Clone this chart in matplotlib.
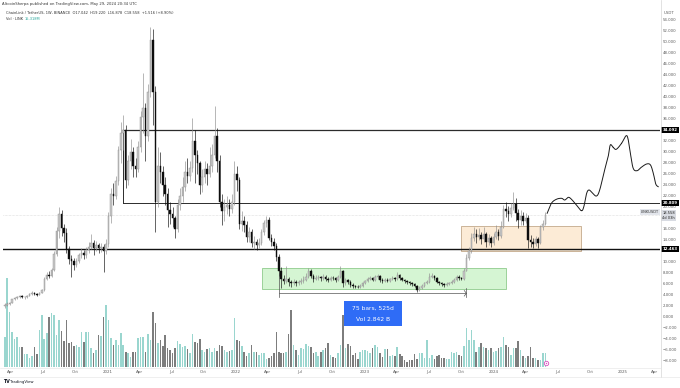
import matplotlib
matplotlib.use("Agg")
import matplotlib.pyplot as plt
import matplotlib.dates as mdates
from matplotlib.patches import Rectangle
from matplotlib.lines import Line2D
import numpy as np
import pandas as pd

# LINK/USDT weekly candles (Binance), first candle = week of 16 Mar 2020
first_open = 2.05
close = [2.30, 2.45, 2.60, 3.30, 3.55, 3.70, 3.85, 3.70, 3.75, 3.90,
         4.25, 4.45, 4.35, 4.15, 4.45, 4.95, 7.00, 7.80, 7.50, 8.60,
         11.50, 15.80, 18.90, 16.20, 15.30, 12.40, 10.60, 10.20, 9.60, 10.30,
         11.30, 11.80, 11.40, 12.20, 12.90, 13.60, 12.60, 13.20, 12.60, 12.90,
         12.10, 13.40, 18.50, 22.50, 22.00, 24.80, 30.50, 33.50, 34.00, 25.00,
         28.50, 30.00, 27.50, 27.00, 31.00, 36.50, 38.00, 33.00, 41.00, 50.50,
         41.00, 21.00, 27.50, 26.50, 24.00, 22.50, 19.50, 18.80, 18.00, 16.00,
         20.50, 22.00, 23.80, 26.50, 25.80, 27.20, 32.00, 29.50, 28.00, 24.00,
         25.50, 27.00, 26.00, 27.50, 29.50, 33.00, 28.50, 21.00, 19.30, 20.00,
         20.50, 19.80, 21.00, 26.00, 25.00, 17.00, 17.50, 16.80, 14.60, 15.50,
         13.50, 13.70, 13.20, 13.60, 15.50, 17.20, 17.80, 14.50, 13.80, 13.00,
         11.00, 8.50, 7.00, 6.60, 7.00, 6.40, 6.30, 6.50, 6.20, 6.40,
         6.60, 6.90, 7.40, 8.40, 7.60, 7.00, 7.20, 7.30, 7.10, 7.40,
         7.00, 6.90, 7.20, 7.10, 6.80, 7.30, 8.40, 6.20, 6.90, 6.50,
         5.90, 5.70, 5.60, 5.50, 5.70, 6.30, 6.60, 7.00, 7.20, 6.90,
         7.30, 7.60, 6.80, 6.60, 6.90, 6.70, 6.95, 7.20, 7.00, 7.80,
         7.10, 6.90, 6.60, 6.40, 6.20, 6.00, 5.80, 5.00, 5.40, 5.80,
         6.20, 6.50, 7.40, 7.60, 7.20, 6.50, 6.20, 6.00, 5.90, 6.10,
         6.20, 6.50, 6.90, 7.40, 7.20, 7.00, 8.50, 10.90, 12.10, 14.50,
         15.20, 14.60, 15.00, 14.20, 15.10, 13.80, 14.40, 13.60, 14.70, 15.50,
         14.80, 16.50, 19.80, 19.30, 18.80, 19.90, 20.60, 19.00, 17.80, 18.40,
         17.60, 18.10, 14.00, 13.80, 13.30, 14.30, 13.50, 16.40, 17.042, 18.558]
high = [2.60, 2.75, 2.90, 3.45, 3.80, 3.95, 4.05, 4.00, 3.95, 4.10,
        4.40, 4.75, 4.65, 4.50, 4.60, 5.20, 7.40, 8.30, 8.40, 9.00,
        12.00, 16.50, 20.00, 19.50, 17.00, 16.20, 13.00, 11.40, 10.80, 10.80,
        11.80, 12.60, 12.30, 12.80, 13.80, 15.10, 14.10, 13.90, 13.60, 13.50,
        13.40, 14.20, 19.20, 23.50, 24.50, 25.80, 31.20, 35.50, 36.90, 35.00,
        29.50, 32.50, 31.00, 29.00, 32.00, 37.50, 44.50, 39.00, 42.50, 52.90,
        52.50, 42.00, 31.00, 30.00, 27.50, 25.50, 23.50, 21.00, 20.00, 18.50,
        21.50, 23.50, 25.50, 28.50, 29.00, 28.50, 36.20, 34.00, 30.50, 28.50,
        27.00, 28.50, 28.00, 31.00, 31.50, 38.40, 34.50, 29.50, 22.50, 21.50,
        22.00, 21.50, 22.50, 28.50, 27.50, 25.50, 19.30, 18.50, 17.50, 16.50,
        16.00, 14.80, 14.30, 14.50, 16.00, 17.80, 18.50, 18.20, 15.20, 14.50,
        13.50, 11.50, 9.20, 7.80, 9.30, 7.40, 6.90, 7.00, 6.90, 6.80,
        7.10, 7.50, 8.00, 9.00, 8.80, 7.90, 7.70, 7.80, 7.60, 7.90,
        7.70, 7.40, 7.60, 7.50, 7.40, 7.70, 9.30, 8.60, 7.20, 7.00,
        6.80, 6.20, 5.95, 5.90, 6.00, 6.50, 6.90, 7.40, 7.60, 7.40,
        7.70, 7.90, 7.70, 7.10, 7.20, 7.10, 7.20, 7.50, 7.40, 8.30,
        7.90, 7.30, 7.00, 6.80, 6.60, 6.40, 6.20, 5.95, 5.70, 6.00,
        6.50, 6.90, 8.00, 8.10, 7.80, 7.40, 6.70, 6.40, 6.20, 6.40,
        6.50, 6.80, 7.20, 7.80, 7.70, 7.40, 9.00, 11.60, 12.80, 15.40,
        16.40, 16.00, 16.20, 15.60, 16.50, 15.60, 15.10, 14.90, 15.30, 16.80,
        16.00, 17.50, 20.50, 21.00, 20.20, 20.80, 22.90, 21.80, 19.80, 19.50,
        19.20, 19.00, 18.60, 15.00, 14.40, 14.80, 14.60, 16.80, 17.80, 19.22]
low = [1.75, 2.10, 2.30, 2.55, 3.15, 3.40, 3.55, 3.50, 3.45, 3.60,
       3.85, 4.15, 4.10, 3.90, 4.05, 4.40, 4.90, 6.90, 7.10, 7.40,
       8.40, 11.20, 14.50, 14.80, 13.80, 11.80, 9.80, 7.30, 8.60, 9.20,
       9.90, 10.80, 10.60, 10.90, 11.80, 12.50, 11.30, 12.10, 11.80, 11.90,
       8.30, 11.60, 12.90, 17.20, 20.50, 21.50, 24.00, 28.00, 30.50, 23.50,
       24.00, 27.00, 25.50, 25.50, 26.50, 30.00, 33.50, 28.50, 32.00, 40.00,
       35.00, 15.50, 20.00, 24.50, 22.00, 20.50, 16.50, 17.00, 16.50, 14.40,
       15.50, 19.50, 21.00, 23.00, 24.50, 24.80, 26.50, 24.50, 26.00, 22.50,
       22.80, 24.50, 24.00, 25.50, 26.50, 29.00, 26.50, 20.00, 16.80, 17.50,
       18.80, 18.50, 19.00, 20.50, 23.00, 16.00, 15.80, 15.50, 13.80, 13.80,
       12.80, 12.50, 12.30, 12.60, 13.20, 15.00, 16.50, 14.00, 13.00, 12.20,
       10.20, 7.60, 5.40, 6.00, 6.20, 5.80, 5.50, 5.90, 5.70, 5.90,
       6.10, 6.30, 6.60, 7.20, 7.20, 6.50, 6.80, 6.80, 6.70, 6.90,
       6.60, 6.50, 6.70, 6.80, 6.50, 6.60, 7.10, 5.50, 5.90, 6.10,
       5.60, 5.40, 5.35, 5.30, 5.40, 5.60, 6.10, 6.40, 6.80, 6.60,
       6.70, 7.00, 6.50, 6.30, 6.40, 6.40, 6.50, 6.80, 6.70, 6.90,
       6.80, 6.60, 6.30, 6.10, 5.90, 5.70, 5.50, 4.70, 4.80, 5.20,
       5.60, 6.00, 6.30, 7.10, 6.90, 6.20, 5.90, 5.70, 5.60, 5.70,
       5.90, 6.00, 6.30, 6.70, 6.90, 6.80, 6.90, 8.40, 10.50, 11.80,
       13.90, 13.60, 14.00, 13.40, 13.80, 12.80, 13.20, 12.90, 13.20, 14.20,
       14.00, 14.50, 16.20, 18.20, 17.60, 18.30, 19.50, 17.50, 16.20, 16.80,
       16.90, 17.10, 12.60, 12.80, 12.60, 13.00, 12.60, 13.30, 15.90, 16.878]
# weekly volume (overlay scale, M LINK)
volume = [30, 89, 55, 35, 28, 30, 20, 20, 13, 13,
          9, 11, 20, 13, 37, 52, 28, 34, 50, 54,
          52, 32, 47, 36, 26, 47, 24, 25, 21, 22,
          20, 35, 25, 35, 35, 19, 14, 17, 32, 31,
          50, 62, 47, 29, 22, 27, 22, 34, 22, 15,
          14, 10, 15, 15, 29, 30, 30, 15, 33, 27,
          55, 44, 24, 27, 21, 32, 19, 17, 14, 19,
          26, 23, 20, 21, 18, 14, 33, 25, 24, 28,
          17, 15, 18, 19, 15, 19, 16, 22, 21, 17,
          15, 16, 17, 49, 27, 26, 21, 15, 11, 14,
          22, 15, 15, 12, 14, 14, 8, 9, 11, 14,
          35, 15, 14, 14, 15, 33, 57, 22, 17, 12,
          19, 18, 23, 21, 20, 14, 15, 11, 15, 17,
          19, 24, 12, 10, 9, 14, 22, 52, 19, 23,
          21, 12, 14, 8, 15, 17, 17, 16, 14, 19,
          22, 20, 14, 10, 18, 18, 11, 12, 11, 20,
          13, 11, 7, 5, 7, 7, 13, 8, 14, 14,
          9, 27, 9, 12, 8, 11, 12, 9, 9, 8,
          8, 15, 14, 15, 12, 11, 21, 39, 27, 37,
          27, 15, 20, 24, 20, 19, 17, 19, 15, 16,
          19, 20, 30, 22, 20, 12, 19, 19, 26, 17,
          11, 9, 11, 20, 9, 9, 7, 7, 14, 14]

levels = [34.092, 20.809, 12.463]
range_start = '2021-02-14'
green_box = ('2022-03-15', '2024-02-05', 5.24, 8.95)
orange_box = ('2023-10-02', '2024-09-04', 12.1, 16.6)
measure = ('2022-05-02', '2023-10-16', 4.4)

# drawn projection path
proj_dates = ['2024-06-01', '2024-06-13', '2024-06-27', '2024-07-12', '2024-07-21',
              '2024-07-31', '2024-08-09', '2024-08-23', '2024-09-06', '2024-09-13',
              '2024-09-21', '2024-09-28', '2024-10-08', '2024-10-19', '2024-10-28',
              '2024-11-11', '2024-11-21', '2024-11-27', '2024-12-05', '2024-12-14',
              '2024-12-29', '2025-01-10', '2025-01-16', '2025-01-23', '2025-01-31',
              '2025-02-11', '2025-02-23', '2025-03-10', '2025-03-21', '2025-03-29',
              '2025-04-05', '2025-04-12']
proj_price = [18.95, 20.76, 21.49, 21.67, 21.36, 21.85, 21.49, 20.45, 19.42, 20.15,
              22.58, 23.18, 22.58, 22.09, 23.18, 26.82, 29.24, 31.36, 30.95, 30.58,
              31.67, 33.00, 32.58, 29.85, 27.13, 26.69, 27.31, 27.91, 27.73, 26.22,
              24.27, 23.78]

price_ticks = [54, 52, 50, 48, 46, 44, 42, 40, 38, 36, 32, 30, 28, 26, 24, 22, 20,
               16, 14, 10, 8, 6, 4, 2, 0, -2, -4, -6, -8]
month_ticks = pd.date_range('2020-04-01', '2025-04-01', freq='QS')

W, H = 680, 388
def fx(px): return px / W
def fy(py): return 1 - py / H
def d(s): return mdates.date2num(pd.Timestamp(s))

fig = plt.figure(figsize=(6.8, 3.88), dpi=100)
ax = fig.add_axes([fx(3), fy(367), 657 / W, 358 / H])
ax2 = ax.twinx()
ax.set_zorder(ax2.get_zorder() + 1)
ax.patch.set_visible(False)
for a in (ax, ax2):
    for s in a.spines.values():
        s.set_visible(False)
    a.set_xticks([])
    a.set_yticks([])
ax.set_xlim(d('2020-03-11'), d('2025-04-17'))
ax.set_ylim(-9.0, 56.09)
ax2.set_ylim(0, 358)

weeks = pd.date_range('2020-03-16', periods=len(close), freq='7D')
x = mdates.date2num(weeks.to_pydatetime())
opens = [first_open] + close[:-1]   # weekly open = previous close
up = [c >= o for o, c in zip(opens, close)]

# volume overlay
vcol = ['#9ad6cf' if u else '#7d7d7d' for u in up]
ax2.bar(x, volume, width=4.4, color=vcol, zorder=2)

# measure label (blue box)
ax2.add_patch(Rectangle((d('2022-11-02'), 41), d('2023-04-16') - d('2022-11-02'), 25,
                        fc='#2f6cf6', ec='none', zorder=1))
ax2.text(d('2023-01-24'), 59, '75 bars, 525d', color='white', fontsize=4.3,
         ha='center', va='center', zorder=1.5)
ax2.text(d('2023-01-24'), 47.5, 'Vol 2.842 B', color='white', fontsize=4.3,
         ha='center', va='center', zorder=1.5)

# boxes
g0, g1, gb, gt = green_box
ax.add_patch(Rectangle((d(g0), gb), d(g1) - d(g0), gt - gb, fc='#d5f5d3',
                       ec='#7cc27a', lw=0.5, zorder=1))
o0, o1, ob, ot = orange_box
ax.add_patch(Rectangle((d(o0), ob), d(o1) - d(o0), ot - ob, fc='#fcebd6',
                       ec='#b89a78', lw=0.5, zorder=1))

# levels
xr = ax.get_xlim()[1]
ax.plot([d(range_start), xr], [levels[0]] * 2, color='#2b2b2b', lw=0.9, zorder=2)
ax.plot([d(range_start), xr], [levels[1]] * 2, color='#2b2b2b', lw=0.7, zorder=2)
ax.plot([d(range_start)] * 2, [levels[1], levels[0]], color='#2b2b2b', lw=0.7, zorder=2)
ax.axhline(levels[2], color='#111111', lw=1.0, zorder=2)
ax.axhline(close[-1], color='#c4c4c4', lw=0.4, ls=(0, (1, 1.5)), zorder=1.5)

# candles
body_c = ['#c9c9c9' if u else '#0d0d0d' for u in up]
edge_c = ['#8e8e8e' if u else '#0d0d0d' for u in up]
ax.vlines(x, low, high, colors=edge_c, lw=0.45, zorder=3)
bottoms = [min(o, c) for o, c in zip(opens, close)]
heights = [max(abs(c - o), 0.1) for o, c in zip(opens, close)]
ax.bar(x, heights, bottom=bottoms, width=4.3, color=body_c, edgecolor=edge_c,
       linewidth=0.3, zorder=4)

# measure line
m0, m1, my = measure
ax.plot([d(m0), d(m1)], [my, my], color='#555555', lw=0.5, zorder=3)
ax.plot([d(m0)] * 2, [3.7, 8.0], color='#555555', lw=0.5, zorder=3)
ax.plot([d(m1)] * 2, [3.7, 5.4], color='#555555', lw=0.5, zorder=3)
ax.plot([d(m1) - 6, d(m1), d(m1) - 6], [my + 0.5, my, my - 0.5], color='#555555', lw=0.5, zorder=3)

# projection path (smoothed through the drawn points)
px_ = np.array([d(s) for s in proj_dates])
py_ = np.array(proj_price)
P = np.column_stack([px_, py_])
P = np.vstack([P[0], P, P[-1]])
seg = []
for i in range(1, len(P) - 2):
    p0, p1, p2, p3 = P[i - 1], P[i], P[i + 1], P[i + 2]
    t = np.linspace(0, 1, 12)[:, None]
    seg.append(0.5 * ((2 * p1) + (-p0 + p2) * t + (2 * p0 - 5 * p1 + 4 * p2 - p3) * t ** 2
                      + (-p0 + 3 * p1 - 3 * p2 + p3) * t ** 3))
curve = np.vstack(seg)
ax.plot(curve[:, 0], curve[:, 1], color='#1a1a1a', lw=0.7, zorder=5)

# event marker
ax.plot(d('2024-05-28'), -8.27, marker='o', ms=3.2, mfc='white', mec='#d84fc0', mew=0.6, zorder=6)
ax.plot(d('2024-05-28'), -8.27, marker='o', ms=1.0, mfc='#d84fc0', mec='none', zorder=7)

# right price scale
yt = ax.get_yaxis_transform()
for p in price_ticks:
    lab = ('%.3f' % abs(p)) if p >= 0 else '\u2212%.3f' % abs(p)
    ax.text(1.0046, p, lab, transform=yt, fontsize=2.8, color='#5d5d5d',
            ha='left', va='center', clip_on=False)
for lv in levels:
    ax.text(1.0035, lv, '%.3f' % lv, transform=yt, fontsize=2.8, color='white',
            fontweight='bold', ha='left', va='center', clip_on=False,
            bbox=dict(boxstyle='square,pad=0.35', fc='black', ec='none'))
ax.text(1.0035, close[-1], '%.3f\n4d 03h' % close[-1], transform=yt, fontsize=2.6,
        color='#222222', ha='left', va='center', linespacing=1.1, clip_on=False,
        bbox=dict(boxstyle='square,pad=0.3', fc='#d8dbe2', ec='none'))
ax.text(0.9985, close[-1] + 0.6, 'LINKUSDT', transform=yt, fontsize=2.6, color='#333333',
        ha='right', va='center', clip_on=False,
        bbox=dict(boxstyle='square,pad=0.3', fc='#e3e6ec', ec='none'))
fig.text(fx(664), fy(13), 'USDT', fontsize=2.8, color='#5d5d5d', va='center')

# time scale
xt = ax.get_xaxis_transform()
for m in month_ticks:
    lab = str(m.year) if m.month == 1 else m.strftime('%b')
    ax.text(mdates.date2num(m), -0.013, lab, transform=xt, fontsize=2.9,
            color='#5d5d5d', ha='center', va='center', clip_on=False)

# frame lines
fig.add_artist(Line2D([fx(660.5)] * 2, [fy(0), fy(377)], color='#d6d6d6', lw=0.5))
fig.add_artist(Line2D([0, fx(660.5)], [fy(367.5)] * 2, color='#e4e4e4', lw=0.4))
fig.add_artist(Line2D([0, 1], [fy(376.5)] * 2, color='#e4e4e4', lw=0.4))

# header
fig.text(fx(2), fy(4.5), 'AltcoinSherpa published on TradingView.com, May 29, 2024 20:34 UTC',
         fontsize=2.7, color='#333333', va='center')
fig.text(fx(6), fy(13), 'ChainLink / TetherUS, 1W, BINANCE  O17.042  H19.220  L16.878  '
         'C18.558  +1.516 (+8.90%)', fontsize=2.6, color='#333333', va='center')
fig.text(fx(6), fy(19), 'Vol \u00b7 LINK', fontsize=2.6, color='#333333', va='center')
fig.text(fx(25), fy(19), '15.318M', fontsize=2.6, color='#26a69a', va='center')
fig.text(fx(3), fy(381.5), 'TV', fontsize=3.4, color='#131722', fontweight='bold', va='center')
fig.text(fx(10), fy(381.5), 'TradingView', fontsize=2.8, color='#131722', va='center')

fig.savefig('out.png', dpi=100, facecolor='white')
